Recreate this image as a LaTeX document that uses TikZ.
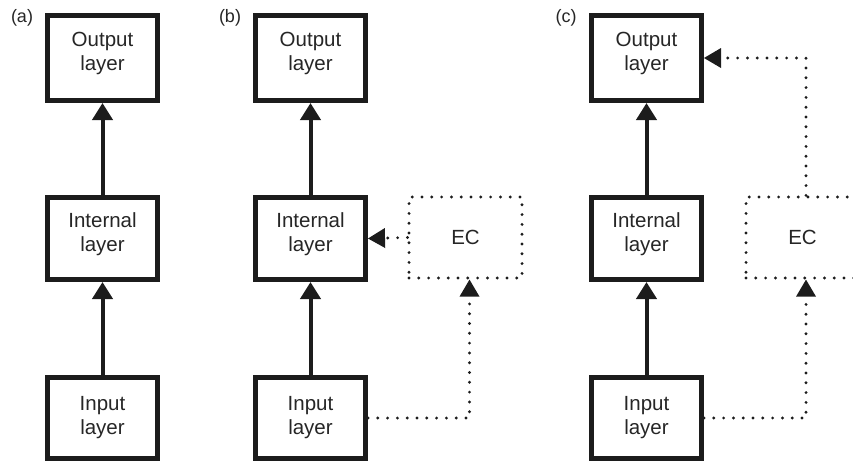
\documentclass[tikz,border=0pt]{standalone}
\usepackage{fontspec}
\setmainfont{Liberation Sans}
\usetikzlibrary{arrows.meta}
\definecolor{ink}{HTML}{1C1C1C}
\definecolor{txt}{HTML}{262626}
\begin{document}
\begin{tikzpicture}[x=1pt,y=1pt,
  layerbox/.style={draw=ink, line width=5pt, minimum width=110pt, minimum height=85pt, inner sep=0pt},
  layertext/.style={align=center, font=\fontsize{20.5}{24}\selectfont, inner sep=0pt, text=txt},
  ecbox/.style={draw=ink, line width=3.2pt, dash pattern=on 0pt off 9.8pt, line cap=round,
    minimum width=113pt, minimum height=81pt, font=\fontsize{20.5}{24}\selectfont, text=txt},
  solidarrow/.style={draw=ink, line width=4pt, -{Triangle[length=17pt,width=20pt]}},
  dotarrow/.style={draw=ink, line width=3.2pt, dash pattern=on 0pt off 9.8pt, line cap=round,
    -{Triangle[length=17pt,width=20pt,line width=0pt]}},
  panel/.style={font=\fontsize{18}{22}\selectfont, text=txt}
]
\useasboundingbox (0,0) rectangle (853,-461);
% panel labels
\node[panel] (la) at (22,-18) {(a)};
\node[panel] (lb) at (230,-18) {(b)};
\node[panel] (lc) at (566,-18) {(c)};
% (a)
\node[layerbox, label={[layertext,yshift=5pt]center:{Output\\layer}}] (outa) at (102.5,-58) {};
\node[layerbox, minimum height=82pt, label={[layertext,yshift=4pt]center:{Internal\\layer}}] (inta) at (102.5,-238.5) {};
\node[layerbox, minimum height=81pt, label={[layertext,yshift=0pt]center:{Input\\layer}}] (ina) at (102.5,-418) {};
\draw[solidarrow] (ina) -- (inta);
\draw[solidarrow] (inta) -- (outa);
% (b)
\node[layerbox, label={[layertext,yshift=5pt]center:{Output\\layer}}] (outb) at (310.5,-58) {};
\node[layerbox, minimum height=82pt, label={[layertext,yshift=4pt]center:{Internal\\layer}}] (intb) at (310.5,-238.5) {};
\node[layerbox, minimum height=81pt, label={[layertext,yshift=0pt]center:{Input\\layer}}] (inb) at (310.5,-418) {};
\draw[solidarrow] (inb) -- (intb);
\draw[solidarrow] (intb) -- (outb);
\node[ecbox] (ecb) at (465.5,-237.5) {EC};
\draw[dotarrow] (ecb.west) -- (intb.east);
\draw[dotarrow] (inb.east) -| ([xshift=4pt]ecb.south);
% (c)
\node[layerbox, label={[layertext,yshift=5pt]center:{Output\\layer}}] (outc) at (646.5,-58) {};
\node[layerbox, minimum height=82pt, label={[layertext,yshift=4pt]center:{Internal\\layer}}] (intc) at (646.5,-238.5) {};
\node[layerbox, minimum height=81pt, label={[layertext,yshift=0pt]center:{Input\\layer}}] (inc) at (646.5,-418) {};
\draw[solidarrow] (inc) -- (intc);
\draw[solidarrow] (intc) -- (outc);
\node[ecbox] (ecc) at (802.5,-237.5) {EC};
\draw[dotarrow] (inc.east) -| ([xshift=3.5pt]ecc.south);
\draw[dotarrow] ([xshift=3.5pt]ecc.north) |- (outc.east);
\end{tikzpicture}
\end{document}
